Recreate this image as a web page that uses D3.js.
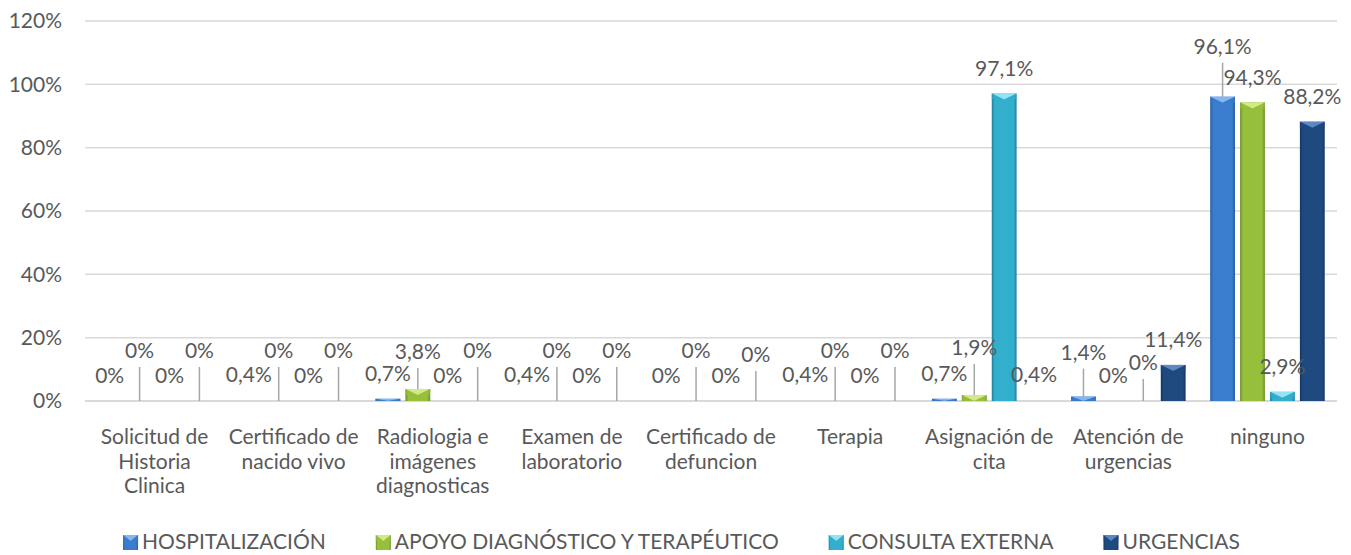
<!DOCTYPE html>
<html>
<head>
<meta charset="utf-8">
<script src="https://cdn.jsdelivr.net/npm/d3@7"></script>
<style>
  body { margin: 0; background: #fff; }
  text { font-family: Lato, "Open Sans", sans-serif; fill: #595959; }
</style>
</head>
<body>
<div id="chart"></div>
<script>
// categories (line breaks as shown under the axis)
var categories = [
    "Solicitud de\nHistoria\nClinica",
    "Certificado de\nnacido vivo",
    "Radiologia e\nimágenes\ndiagnosticas",
    "Examen de\nlaboratorio",
    "Certificado de\ndefuncion",
    "Terapia",
    "Asignación de\ncita",
    "Atención de\nurgencias",
    "ninguno"
];
var seriesNames = ["HOSPITALIZACIÓN", "APOYO DIAGNÓSTICO Y TERAPÉUTICO", "CONSULTA EXTERNA", "URGENCIAS"];

// values in %
var hospitalizacion = [0, 0.4, 0.7, 0.4, 0, 0.4, 0.7, 1.4, 96.1];
var apoyo           = [0, 0, 3.8, 0, 0, 0, 1.9, 0, 94.3];
var consulta        = [0, 0, 0, 0, 0, 0, 97.1, 0, 2.9];
var urgencias       = [0, 0, 0, 0, 0, 0, 0.4, 11.4, 88.2];
var yTicks = [0, 20, 40, 60, 80, 100, 120];

// how far (px) each data label sits above its bar top
var labelLift = [
    [25, 50, 25, 50],
    [25, 50, 25, 50],
    [25, 37, 25, 50],
    [25, 50, 25, 50],
    [25, 50, 25, 46],
    [25, 50, 25, 50],
    [25, 47, 25, 25],
    [44, 25, 38, 25],
    [50, 25, 25, 25]
];

var colors = [
    {base: "#3a7ccd", light: "#86b6ee", dark: "#2a5f9f"},
    {base: "#96c03c", light: "#d2ea86", dark: "#6e8e28"},
    {base: "#31afcd", light: "#95e2f3", dark: "#217d96"},
    {base: "#1f4a80", light: "#5d88c0", dark: "#143661"}
];

var allSeries = [hospitalizacion, apoyo, consulta, urgencias];

var W = 1351, H = 555;
var plot = {left: 85, right: 1337, top: 21, bottom: 401};

var svg = d3.select("#chart").append("svg")
    .attr("width", W)
    .attr("height", H);

var defs = svg.append("defs");
colors.forEach(function(c, i) {
    var g = defs.append("linearGradient")
        .attr("id", "grad" + i)
        .attr("x1", "0%").attr("x2", "100%").attr("y1", "0%").attr("y2", "0%");
    g.append("stop").attr("offset", "0%").attr("stop-color", c.dark);
    g.append("stop").attr("offset", "12%").attr("stop-color", c.base);
    g.append("stop").attr("offset", "88%").attr("stop-color", c.base);
    g.append("stop").attr("offset", "100%").attr("stop-color", c.dark);
});

var y = d3.scaleLinear().domain([0, 120]).range([plot.bottom, plot.top]);
var x0 = d3.scaleBand().domain(d3.range(categories.length))
    .range([plot.left, plot.right]).paddingInner(0.14).paddingOuter(0.07);
var x1 = d3.scaleBand().domain(d3.range(seriesNames.length))
    .range([0, x0.bandwidth()]).paddingInner(0.17).paddingOuter(0.085);

// gridlines
svg.append("g").selectAll("line")
    .data(yTicks)
    .enter().append("line")
    .attr("x1", plot.left).attr("x2", plot.right)
    .attr("y1", function(d) { return y(d); })
    .attr("y2", function(d) { return y(d); })
    .attr("stroke", "#d9d9d9")
    .attr("stroke-width", function(d) { return d === 0 ? 2 : 1.5; });

// y axis labels
svg.append("g").selectAll("text")
    .data(yTicks)
    .enter().append("text")
    .attr("x", 62)
    .attr("y", function(d) { return y(d); })
    .attr("dy", "0.35em")
    .attr("text-anchor", "end")
    .style("font-size", "21px")
    .text(function(d) { return d + "%"; });

// bars
function drawBar(g, bx, top, w, h, i) {
    var c = colors[i];
    g.append("rect")
        .attr("x", bx).attr("y", top)
        .attr("width", w).attr("height", h)
        .attr("fill", "url(#grad" + i + ")");
    var bev = Math.min(6, h);
    g.append("path")
        .attr("d", "M" + bx + "," + top + "L" + (bx + w) + "," + top +
              "L" + (bx + w / 2) + "," + (top + bev) + "Z")
        .attr("fill", c.light);
    g.append("path")
        .attr("d", "M" + bx + "," + top + "L" + (bx + w / 2) + "," + (top + bev) +
              "L" + bx + "," + (top + bev) + "Z")
        .attr("fill", c.base).attr("opacity", 0.6);
    g.append("path")
        .attr("d", "M" + (bx + w) + "," + top + "L" + (bx + w / 2) + "," + (top + bev) +
              "L" + (bx + w) + "," + (top + bev) + "Z")
        .attr("fill", c.base).attr("opacity", 0.6);
}

var bars = svg.append("g");
var labels = svg.append("g");
categories.forEach(function(cat, ci) {
    allSeries.forEach(function(vals, si) {
        var v = vals[ci];
        var bx = x0(ci) + x1(si);
        var w = x1.bandwidth();
        var top = y(v);
        var h = plot.bottom - top;
        if (h > 1.5) drawBar(bars, bx, top, w, h, si);

        var lift = labelLift[ci][si];
        var cy = top - lift;
        if (lift > 30) {
            labels.append("line")
                .attr("x1", bx + w / 2).attr("x2", bx + w / 2)
                .attr("y1", cy + 16).attr("y2", top)
                .attr("stroke", "#a6a6a6").attr("stroke-width", 1.5);
        }
        labels.append("text")
            .attr("x", bx + w / 2)
            .attr("y", cy)
            .attr("dy", "0.35em")
            .attr("text-anchor", "middle")
            .style("font-size", "21px")
            .text(String(v).replace(".", ",") + "%");
    });
});

// category labels
svg.append("g").selectAll("text")
    .data(categories)
    .enter().append("text")
    .attr("text-anchor", "middle")
    .style("font-size", "21px")
    .each(function(d, i) {
        var t = d3.select(this);
        d.split("\n").forEach(function(line, k) {
            t.append("tspan")
                .attr("x", x0(i) + x0.bandwidth() / 2)
                .attr("y", 444 + k * 24.5)
                .text(line);
        });
    });

// legend
var legend = svg.append("g");
var lx = 0;
seriesNames.forEach(function(name, i) {
    var g = legend.append("g").attr("transform", "translate(" + lx + ",0)");
    drawBar(g, 0, -7, 15, 15, i);
    var t = g.append("text")
        .attr("x", 19).attr("y", 0).attr("dy", "0.35em")
        .style("font-size", "21px")
        .text(name);
    lx += 19 + t.node().getComputedTextLength() + 50;
});
var legendW = lx - 50;
legend.attr("transform", "translate(" + (W / 2 + 6 - legendW / 2) + ",542)");
</script>
</body>
</html>
